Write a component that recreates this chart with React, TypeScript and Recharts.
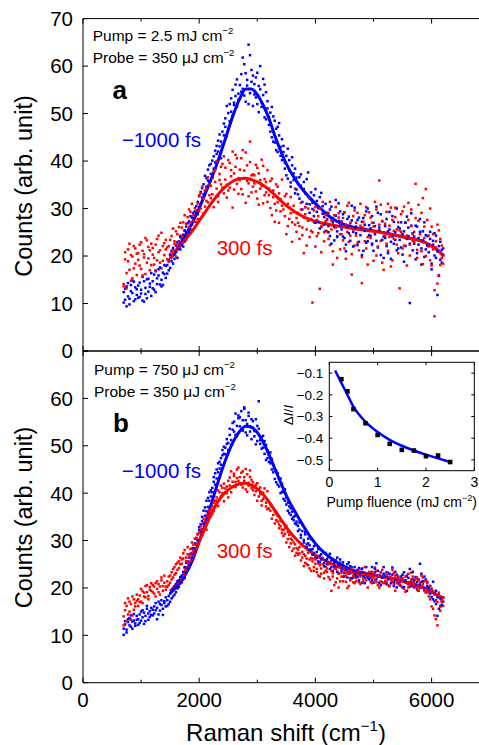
import React from 'react';
import { ComposedChart, Scatter, Line, XAxis, YAxis } from 'recharts';

// Raman shift grid (cm^-1)
const shifts = [
  700, 725, 750, 775, 800, 825, 850, 875, 900, 925,
  950, 975, 1000, 1025, 1050, 1075, 1100, 1125, 1150, 1175,
  1200, 1225, 1250, 1275, 1300, 1325, 1350, 1375, 1400, 1425,
  1450, 1475, 1500, 1525, 1550, 1575, 1600, 1625, 1650, 1675,
  1700, 1725, 1750, 1775, 1800, 1825, 1850, 1875, 1900, 1925,
  1950, 1975, 2000, 2025, 2050, 2075, 2100, 2125, 2150, 2175,
  2200, 2225, 2250, 2275, 2300, 2325, 2350, 2375, 2400, 2425,
  2450, 2475, 2500, 2525, 2550, 2575, 2600, 2625, 2650, 2675,
  2700, 2725, 2750, 2775, 2800, 2825, 2850, 2875, 2900, 2925,
  2950, 2975, 3000, 3025, 3050, 3075, 3100, 3125, 3150, 3175,
  3200, 3225, 3250, 3275, 3300, 3325, 3350, 3375, 3400, 3425,
  3450, 3475, 3500, 3525, 3550, 3575, 3600, 3625, 3650, 3675,
  3700, 3725, 3750, 3775, 3800, 3825, 3850, 3875, 3900, 3925,
  3950, 3975, 4000, 4025, 4050, 4075, 4100, 4125, 4150, 4175,
  4200, 4225, 4250, 4275, 4300, 4325, 4350, 4375, 4400, 4425,
  4450, 4475, 4500, 4525, 4550, 4575, 4600, 4625, 4650, 4675,
  4700, 4725, 4750, 4775, 4800, 4825, 4850, 4875, 4900, 4925,
  4950, 4975, 5000, 5025, 5050, 5075, 5100, 5125, 5150, 5175,
  5200, 5225, 5250, 5275, 5300, 5325, 5350, 5375, 5400, 5425,
  5450, 5475, 5500, 5525, 5550, 5575, 5600, 5625, 5650, 5675,
  5700, 5725, 5750, 5775, 5800, 5825, 5850, 5875, 5900, 5925,
  5950, 5975, 6000, 6025, 6050, 6075, 6100, 6125, 6150, 6175,
  6200,
];

// Panel a, -1000 fs (blue), two read-offs of the cloud
const aBlue = [
  10.2, 13.1, 9.4, 14.3, 11.0, 12.6, 14.8, 10.5, 13.4, 11.8,
  11.2, 14.4, 12.1, 15.6, 10.4, 13.3, 15.1, 12.5, 14.2, 11.6,
  13.2, 16.1, 12.4, 15.3, 17.2, 14.0, 13.6, 16.5, 18.1, 15.4,
  16.3, 19.2, 17.5, 21.1, 18.4, 20.3, 22.2, 19.6, 23.1, 21.4,
  22.3, 24.5, 23.1, 26.2, 24.4, 27.3, 25.6, 28.1, 27.2, 29.4,
  29.1, 31.4, 30.2, 33.5, 32.3, 35.1, 33.6, 36.4, 38.2, 35.5,
  37.3, 40.1, 38.4, 42.2, 41.5, 44.3, 43.1, 40.6, 46.2, 45.4,
  47.2, 45.3, 50.1, 48.4, 53.2, 49.5, 52.3, 56.1, 51.4, 54.2,
  53.1, 58.3, 55.2, 60.4, 52.5, 57.1, 64.5, 54.3, 59.2, 51.6,
  56.2, 53.4, 58.6, 50.3, 55.1, 52.4, 57.3, 49.2, 54.5, 51.1,
  49.3, 46.2, 51.4, 44.1, 48.5, 42.3, 47.2, 45.4, 41.1, 44.6,
  43.2, 38.4, 41.1, 36.3, 40.2, 35.5, 39.1, 37.4, 33.2, 36.5,
  35.3, 32.1, 37.2, 31.4, 34.1, 30.3, 36.2, 32.5, 29.1, 33.4,
  31.2, 28.4, 34.1, 29.3, 27.2, 32.4, 26.1, 30.5, 28.2, 25.3,
  29.1, 26.3, 24.2, 30.4, 27.1, 23.3, 28.5, 25.2, 31.1, 26.4,
  27.3, 24.1, 29.2, 22.4, 26.1, 28.3, 23.2, 27.5, 25.1, 30.2,
  26.2, 22.3, 28.1, 24.4, 27.2, 21.1, 25.3, 29.4, 23.1, 26.5,
  24.2, 28.4, 21.1, 26.3, 23.2, 29.1, 25.4, 20.2, 27.3, 24.1,
  26.3, 22.1, 25.2, 29.3, 19.4, 24.1, 27.2, 23.4, 21.2, 26.1,
  23.4, 27.1, 20.3, 25.2, 22.1, 28.3, 24.2, 10.1, 26.4, 21.2,
  24.1, 19.3, 26.2, 22.4, 25.1, 18.2, 23.3, 27.1, 21.4, 24.2,
  22.3, 25.1, 18.4, 23.2, 20.1, 24.3, 11.8, 22.1, 19.2, 21.3,
  20.2,
];
const aBlue2 = [
  12.4, 10.8, 13.6, 11.5, 9.8, 13.9, 12.2, 14.6, 10.9, 13.0,
  13.8, 11.4, 12.9, 10.6, 14.7, 12.0, 11.1, 15.2, 13.5, 16.4,
  14.7, 12.9, 16.8, 14.1, 15.9, 17.6, 15.0, 13.9, 16.2, 17.9,
  18.1, 17.0, 20.2, 18.9, 21.7, 19.4, 20.8, 22.9, 21.5, 24.0,
  23.6, 22.0, 25.4, 24.8, 26.9, 25.1, 28.4, 26.6, 29.1, 28.0,
  30.5, 28.8, 32.6, 31.0, 34.3, 33.0, 36.9, 34.6, 35.9, 39.1,
  39.4, 36.6, 41.0, 39.7, 43.2, 42.0, 45.6, 44.1, 43.5, 47.9,
  49.0, 51.6, 46.8, 52.0, 50.4, 55.0, 51.8, 53.7, 57.2, 52.9,
  56.0, 54.6, 61.8, 53.8, 58.5, 55.9, 52.0, 62.3, 56.7, 58.0,
  54.0, 57.6, 52.0, 55.8, 60.0, 51.4, 53.9, 56.1, 48.8, 52.6,
  47.6, 50.2, 45.0, 49.4, 43.9, 46.8, 41.9, 48.0, 43.0, 40.2,
  41.9, 39.6, 37.0, 42.6, 38.0, 34.6, 40.8, 36.0, 38.4, 34.0,
  33.0, 36.6, 34.8, 29.8, 35.6, 33.2, 31.0, 37.6, 30.9, 32.0,
  29.9, 32.8, 27.0, 31.6, 30.1, 25.8, 33.3, 28.9, 26.6, 31.0,
  27.8, 25.0, 29.8, 22.6, 28.0, 26.2, 31.8, 24.0, 27.4, 29.4,
  25.6, 28.8, 23.8, 21.0, 27.8, 24.8, 26.9, 30.6, 22.0, 25.9,
  24.8, 27.6, 23.0, 25.9, 20.2, 28.0, 26.6, 22.8, 30.0, 24.4,
  25.8, 22.6, 27.0, 24.6, 30.4, 21.8, 26.0, 28.8, 23.4, 19.6,
  23.8, 27.8, 20.6, 25.6, 23.0, 28.4, 22.6, 25.0, 30.0, 21.6,
  25.8, 21.8, 24.6, 18.8, 27.0, 23.6, 26.0, 22.6, 29.0, 24.8,
  22.6, 26.4, 20.6, 23.8, 27.8, 21.6, 25.2, 19.8, 24.4, 22.2,
  20.8, 23.6, 17.2, 22.4, 24.8, 19.6, 21.0, 15.8, 23.0, 18.6,
  21.6,
];

// Panel a, 300 fs (red)
const aRed = [
  14.1, 19.3, 13.2, 21.4, 17.1, 20.2, 15.3, 22.1, 18.4, 20.5,
  19.2, 22.4, 17.3, 21.1, 20.4, 16.2, 23.3, 19.5, 21.2, 18.1,
  20.3, 18.2, 22.4, 19.1, 24.3, 21.2, 17.4, 22.1, 20.2, 23.4,
  19.3, 22.1, 20.4, 24.2, 21.3, 23.1, 25.2, 22.4, 26.1, 24.3,
  24.2, 27.1, 25.3, 23.4, 28.2, 26.1, 29.3, 25.2, 27.4, 30.1,
  27.2, 31.1, 29.4, 33.2, 28.3, 32.1, 30.4, 34.2, 31.3, 35.1,
  32.2, 36.4, 30.3, 38.1, 34.2, 31.4, 37.3, 35.1, 39.4, 33.2,
  36.1, 32.3, 40.2, 34.4, 38.1, 30.2, 37.4, 41.3, 35.2, 33.1,
  38.2, 34.1, 42.3, 36.4, 31.2, 39.1, 35.3, 44.1, 33.4, 37.2,
  35.3, 39.2, 32.1, 37.4, 34.2, 40.3, 31.1, 36.2, 33.4, 38.1,
  34.2, 30.1, 36.3, 32.4, 27.2, 35.1, 31.3, 33.2, 29.4, 36.1,
  31.2, 28.4, 33.1, 26.3, 30.2, 32.4, 27.1, 29.3, 34.2, 25.1,
  29.1, 26.3, 31.2, 24.4, 28.1, 30.3, 22.2, 27.4, 32.1, 25.3,
  10.2, 27.1, 30.3, 24.2, 28.4, 13.1, 26.2, 31.4, 23.1, 27.3,
  25.2, 29.1, 22.3, 27.4, 18.2, 26.1, 30.3, 24.2, 28.1, 21.4,
  27.1, 23.3, 29.2, 19.4, 25.1, 31.2, 24.3, 16.1, 28.4, 22.2,
  24.3, 29.1, 21.2, 26.4, 14.3, 27.2, 23.1, 30.3, 18.2, 25.4,
  28.1, 22.3, 26.2, 31.4, 20.1, 25.3, 35.9, 23.2, 27.4, 17.1,
  24.2, 29.3, 21.1, 26.4, 30.2, 19.1, 25.3, 28.2, 22.4, 27.1,
  13.2, 25.1, 29.4, 22.2, 27.1, 24.3, 31.2, 20.1, 26.3, 23.2,
  25.1, 35.2, 21.3, 27.4, 23.2, 29.1, 18.3, 26.2, 34.1, 22.4,
  24.3, 19.1, 26.2, 21.4, 7.3, 23.1, 14.2, 25.4, 18.1, 22.2,
  20.1,
];
const aRed2 = [
  13.6, 20.8, 16.4, 18.9, 22.6, 14.8, 19.9, 17.4, 21.6, 16.0,
  20.6, 18.0, 22.9, 15.9, 19.7, 23.8, 18.6, 21.9, 17.0, 22.6,
  21.7, 19.6, 17.0, 23.6, 20.8, 18.6, 24.9, 19.0, 22.7, 21.4,
  21.8, 18.8, 23.4, 20.9, 25.8, 22.6, 19.9, 24.6, 23.0, 27.0,
  26.0, 23.0, 28.6, 26.8, 24.4, 29.8, 27.0, 31.0, 28.6, 26.0,
  29.6, 27.8, 32.8, 30.0, 34.6, 29.0, 33.8, 31.6, 36.6, 32.8,
  34.8, 33.0, 37.8, 35.6, 40.0, 32.6, 36.0, 38.8, 34.4, 41.0,
  38.6, 35.0, 33.8, 39.6, 36.8, 42.0, 34.0, 38.8, 40.6, 36.4,
  36.0, 40.6, 33.0, 38.0, 41.8, 35.8, 32.6, 39.8, 37.0, 34.6,
  37.0, 33.6, 38.6, 30.8, 36.0, 34.8, 39.0, 32.8, 35.6, 31.4,
  32.8, 35.8, 28.6, 33.8, 31.0, 29.6, 34.6, 27.0, 32.0, 30.6,
  29.8, 32.6, 24.6, 31.0, 27.8, 29.0, 23.0, 30.6, 26.6, 28.0,
  27.0, 23.6, 29.8, 26.0, 20.6, 28.8, 25.6, 30.0, 24.0, 27.8,
  25.0, 29.6, 22.0, 27.6, 24.8, 30.0, 20.8, 26.6, 25.0, 28.6,
  27.6, 23.6, 31.4, 25.6, 21.0, 28.6, 26.0, 19.6, 29.0, 24.6,
  24.6, 28.0, 21.6, 26.6, 30.6, 23.0, 27.0, 20.4, 25.6, 29.6,
  27.0, 22.8, 25.8, 31.0, 19.8, 26.0, 28.6, 21.6, 24.0, 29.2,
  23.8, 27.0, 19.0, 25.0, 29.8, 22.0, 26.6, 30.8, 18.6, 24.8,
  26.8, 22.6, 31.0, 24.0, 17.8, 27.6, 23.6, 30.2, 25.6, 20.6,
  25.4, 28.8, 21.6, 30.4, 23.8, 18.0, 27.6, 22.4, 29.8, 24.6,
  23.0, 28.0, 19.6, 30.8, 24.6, 21.0, 32.2, 23.8, 20.0, 27.6,
  22.0, 30.0, 18.0, 24.6, 12.8, 21.8, 26.6, 16.0, 23.6, 19.6,
  18.4,
];

// Panel b, -1000 fs (blue)
const bBlue = [
  10.1, 12.3, 11.2, 13.4, 12.1, 14.2, 11.4, 13.1, 12.5, 14.1,
  12.2, 14.4, 13.1, 15.3, 12.4, 14.1, 16.2, 13.3, 15.1, 14.3,
  14.2, 16.1, 15.3, 13.4, 17.1, 15.2, 16.4, 14.3, 17.2, 16.1,
  16.2, 18.3, 17.1, 19.4, 18.2, 20.3, 19.1, 21.4, 20.2, 22.3,
  21.2, 23.4, 22.1, 25.3, 24.2, 26.4, 25.1, 28.3, 27.2, 29.4,
  29.1, 31.3, 32.2, 33.4, 34.1, 36.3, 35.2, 38.4, 37.1, 40.2,
  39.3, 41.1, 42.4, 44.2, 43.1, 46.3, 45.2, 47.4, 49.1, 48.3,
  48.2, 50.4, 49.1, 52.3, 51.2, 53.4, 55.1, 52.3, 54.2, 56.4,
  54.1, 57.3, 53.2, 58.1, 55.4, 52.2, 56.3, 54.1, 51.4, 55.2,
  53.1, 50.3, 54.2, 59.4, 51.2, 49.4, 52.1, 48.3, 50.2, 47.4,
  48.1, 46.3, 47.2, 44.4, 45.1, 42.3, 44.2, 41.4, 43.1, 40.3,
  40.2, 38.4, 39.1, 36.3, 37.2, 35.4, 36.1, 34.3, 35.2, 33.4,
  33.1, 32.3, 31.2, 33.4, 30.1, 31.3, 29.2, 30.4, 28.1, 30.3,
  28.2, 27.4, 29.1, 26.3, 28.2, 25.4, 27.1, 26.3, 25.2, 27.4,
  26.1, 25.3, 27.2, 24.4, 26.1, 25.3, 24.2, 26.4, 23.1, 25.3,
  24.2, 25.4, 23.1, 24.3, 22.2, 25.4, 23.1, 24.3, 22.2, 24.4,
  23.1, 22.3, 24.2, 23.4, 21.1, 23.3, 22.2, 24.4, 22.1, 23.3,
  22.2, 24.4, 21.1, 23.3, 25.2, 22.4, 21.1, 23.3, 22.2, 24.4,
  21.1, 23.3, 22.2, 20.4, 22.1, 24.3, 21.2, 23.4, 20.1, 22.3,
  21.2, 22.4, 20.1, 23.3, 21.2, 19.4, 22.1, 20.3, 21.2, 23.4,
  20.1, 22.3, 21.2, 19.4, 25.1, 21.3, 20.2, 22.4, 19.1, 21.3,
  19.2, 20.4, 18.1, 21.3, 17.2, 19.4, 14.1, 18.3, 16.2, 17.4,
  17.1,
];
const bBlue2 = [
  11.4, 13.0, 10.6, 12.8, 13.6, 11.8, 12.9, 14.5, 12.0, 13.3,
  13.4, 12.6, 15.0, 13.8, 14.8, 13.0, 15.6, 14.6, 13.9, 15.8,
  15.4, 14.6, 16.8, 15.8, 14.4, 16.6, 17.4, 15.6, 16.8, 18.0,
  17.4, 16.6, 18.8, 17.8, 19.8, 18.6, 20.8, 19.9, 21.6, 21.0,
  22.6, 21.8, 24.4, 23.2, 25.6, 24.8, 27.2, 26.4, 28.4, 27.8,
  30.4, 30.0, 32.8, 31.8, 35.0, 33.6, 37.0, 36.2, 39.0, 38.4,
  40.6, 40.2, 43.4, 41.8, 45.0, 44.4, 46.6, 46.0, 48.0, 49.8,
  49.6, 51.4, 50.6, 53.6, 50.2, 54.8, 53.0, 56.8, 52.0, 55.8,
  56.0, 53.4, 55.4, 57.8, 52.8, 54.6, 57.0, 53.0, 55.6, 53.8,
  52.0, 55.6, 51.0, 53.6, 50.4, 51.8, 49.6, 51.0, 47.0, 49.0,
  46.6, 48.6, 45.0, 46.0, 43.0, 44.8, 41.8, 43.0, 40.0, 42.0,
  38.8, 40.8, 37.6, 38.0, 35.8, 36.8, 34.6, 35.0, 33.6, 34.0,
  32.0, 33.8, 30.6, 32.0, 29.6, 31.8, 28.6, 29.4, 29.0, 28.0,
  27.0, 28.8, 26.4, 27.6, 25.6, 26.8, 26.0, 27.8, 24.6, 25.8,
  25.0, 26.6, 24.0, 25.8, 23.6, 24.6, 25.8, 23.4, 24.8, 26.0,
  23.6, 24.8, 22.4, 23.8, 25.0, 23.0, 24.6, 22.0, 23.6, 22.8,
  22.6, 23.8, 21.6, 22.8, 24.0, 22.4, 21.0, 23.0, 22.6, 21.8,
  23.0, 21.6, 22.8, 24.0, 21.8, 23.6, 22.6, 20.6, 22.2, 23.0,
  22.6, 20.8, 21.8, 23.0, 21.0, 22.8, 20.4, 21.6, 22.8, 21.0,
  20.6, 21.8, 22.8, 20.2, 21.6, 22.6, 20.8, 24.0, 20.4, 21.8,
  21.6, 20.6, 19.8, 21.8, 20.6, 23.0, 21.4, 20.0, 21.8, 20.4,
  20.0, 18.8, 19.8, 17.6, 18.8, 16.6, 18.0, 15.6, 17.8, 16.4,
  18.0,
];

// Panel b, 300 fs (red)
const bRed = [
  12.1, 15.3, 16.2, 14.4, 17.1, 13.3, 18.2, 15.4, 16.1, 17.3,
  16.2, 18.4, 17.1, 19.3, 18.2, 20.4, 19.1, 18.3, 20.2, 19.4,
  19.1, 20.3, 18.2, 21.4, 19.1, 20.3, 22.2, 19.4, 21.1, 20.3,
  20.2, 22.4, 21.1, 23.3, 22.2, 24.4, 23.1, 25.3, 24.2, 26.4,
  25.1, 27.3, 24.2, 26.4, 27.1, 25.3, 28.2, 27.4, 29.1, 28.3,
  29.2, 31.4, 30.1, 32.3, 31.2, 33.4, 34.1, 32.3, 35.2, 36.4,
  35.1, 37.3, 36.2, 38.4, 39.1, 37.3, 40.2, 39.4, 41.1, 38.3,
  40.2, 41.4, 39.1, 43.3, 40.2, 42.4, 44.1, 41.3, 43.2, 45.4,
  42.1, 44.3, 41.2, 43.4, 45.1, 40.3, 42.2, 43.4, 41.1, 42.3,
  41.2, 40.4, 42.1, 39.3, 41.2, 38.4, 40.1, 39.3, 37.2, 40.4,
  38.1, 36.3, 37.2, 35.4, 36.1, 34.3, 35.2, 33.4, 34.1, 32.3,
  32.2, 31.4, 33.1, 30.3, 31.2, 29.4, 30.1, 28.3, 29.2, 27.4,
  28.1, 27.3, 29.2, 26.4, 27.1, 25.3, 26.2, 27.4, 24.1, 26.3,
  26.2, 24.4, 25.1, 23.3, 25.2, 22.4, 24.1, 26.3, 23.2, 24.4,
  24.1, 22.3, 25.2, 19.4, 23.1, 24.3, 21.2, 23.4, 20.1, 24.3,
  23.2, 22.4, 24.1, 21.3, 23.2, 20.4, 22.1, 23.3, 21.2, 22.4,
  22.1, 23.3, 21.2, 22.4, 24.1, 21.3, 23.2, 22.4, 20.1, 22.3,
  21.2, 23.4, 22.1, 24.3, 21.2, 22.4, 20.1, 23.3, 21.2, 22.4,
  22.1, 21.3, 23.2, 20.4, 22.1, 21.3, 23.2, 19.4, 22.1, 21.3,
  21.2, 20.4, 22.1, 21.3, 19.2, 22.4, 20.1, 21.3, 23.2, 20.4,
  21.1, 20.3, 22.2, 19.4, 21.1, 20.3, 22.2, 21.4, 19.1, 20.3,
  18.2, 20.4, 16.1, 19.3, 14.2, 17.4, 12.1, 18.3, 15.2, 17.4,
  16.2,
];
const bRed2 = [
  14.0, 16.8, 13.0, 17.8, 15.0, 16.6, 14.2, 17.6, 16.8, 18.6,
  17.6, 17.0, 19.8, 16.8, 19.0, 18.0, 20.6, 17.6, 19.6, 21.0,
  20.6, 18.8, 21.0, 19.8, 20.8, 18.6, 21.6, 20.4, 22.6, 19.6,
  21.4, 20.6, 22.6, 21.8, 24.0, 22.8, 25.0, 23.8, 25.6, 25.0,
  26.0, 26.2, 28.0, 25.6, 28.6, 26.6, 27.0, 29.6, 27.8, 30.4,
  30.6, 29.6, 31.6, 33.0, 32.4, 34.6, 33.0, 35.4, 34.0, 36.0,
  36.6, 35.6, 38.0, 37.0, 38.4, 40.6, 38.6, 41.6, 40.0, 42.0,
  41.0, 40.0, 42.6, 41.6, 44.6, 41.4, 43.6, 42.4, 45.0, 42.6,
  43.4, 41.8, 44.6, 42.6, 40.8, 44.0, 41.6, 44.8, 42.8, 40.6,
  39.6, 41.8, 38.4, 40.8, 39.8, 37.4, 38.8, 41.0, 38.0, 36.6,
  36.8, 37.6, 34.6, 36.8, 33.6, 35.6, 34.0, 32.6, 33.0, 31.6,
  31.0, 32.6, 29.6, 31.8, 28.6, 30.4, 27.8, 29.6, 26.8, 28.4,
  27.0, 28.6, 25.8, 27.6, 24.6, 26.8, 25.0, 24.8, 26.0, 23.6,
  25.6, 23.6, 26.0, 24.0, 22.6, 24.8, 23.0, 25.0, 22.0, 23.6,
  23.4, 25.0, 21.8, 23.6, 22.4, 20.6, 24.0, 22.0, 23.0, 21.4,
  22.4, 21.4, 23.4, 22.6, 20.0, 23.0, 21.6, 24.0, 22.6, 21.0,
  21.4, 22.8, 23.6, 20.8, 22.8, 21.8, 24.4, 21.6, 22.8, 23.4,
  22.6, 21.0, 23.0, 21.6, 23.6, 20.6, 22.6, 21.4, 23.8, 21.0,
  21.4, 22.8, 20.6, 22.4, 21.6, 23.8, 20.8, 22.6, 21.0, 22.4,
  20.6, 22.0, 21.6, 19.8, 22.4, 21.0, 23.0, 20.6, 21.8, 22.4,
  20.6, 21.8, 19.6, 21.6, 20.0, 22.6, 20.8, 19.4, 21.6, 21.0,
  19.0, 17.6, 19.6, 15.6, 18.6, 13.4, 17.0, 19.0, 16.0, 17.0,
  18.0,
];

// Fitted curves
const fitX = [1500, 1700, 1900, 2000, 2100, 2200, 2300, 2400, 2500, 2600, 2700, 2800, 2900, 3000, 3100, 3200, 3300, 3400, 3500, 3700, 3900, 4100, 4300, 4500, 4700, 5000, 5300, 5600, 5900, 6100, 6200];
const fitABlue = [19.4, 23.0, 27.5, 30.1, 33.0, 36.0, 39.2, 42.8, 46.6, 50.2, 53.2, 55.2, 55.2, 54.0, 51.8, 49.0, 45.4, 42.2, 39.4, 35.3, 32.3, 29.9, 27.8, 26.6, 25.9, 25.3, 24.6, 23.8, 22.8, 21.3, 20.1];
const fitARed = [19.5, 22.5, 25.6, 27.4, 29.2, 31.0, 32.6, 34.0, 35.1, 35.9, 36.3, 36.4, 36.1, 35.6, 34.9, 34.0, 32.9, 31.7, 30.6, 28.9, 27.7, 27.0, 26.5, 26.1, 25.7, 25.2, 24.6, 23.8, 22.8, 21.3, 20.1];
const fitBBlue = [18.9, 21.6, 26.3, 29.8, 33.4, 37.4, 41.4, 45.2, 48.5, 51.2, 53.1, 54.1, 53.9, 52.8, 50.8, 48.2, 45.2, 42.3, 39.5, 35.0, 31.0, 28.0, 26.0, 24.5, 23.5, 22.7, 22.1, 21.1, 19.8, 18.5, 17.8];
const fitBRed = [19.3, 22.3, 26.8, 29.8, 32.6, 35.4, 37.8, 39.5, 40.7, 41.5, 42.0, 42.1, 41.7, 40.9, 39.7, 38.2, 36.4, 34.6, 32.8, 29.9, 27.8, 26.2, 25.0, 23.9, 23.1, 22.6, 22.0, 21.1, 19.8, 18.5, 17.8];

const xTicks = [0, 1000, 2000, 3000, 4000, 5000, 6000, 7000];
const yTicks = [0, 10, 20, 30, 40, 50, 60, 70];

// Inset: ΔI/I vs pump fluence
const fluence = [0.25, 0.375, 0.5, 0.75, 1.0, 1.25, 1.5, 1.75, 2.0, 2.25, 2.5];
const deltaI = [-0.128, -0.184, -0.266, -0.331, -0.385, -0.426, -0.454, -0.457, -0.483, -0.48, -0.51];
const fitFluence = [0.12, 0.25, 0.375, 0.5, 0.75, 1.0, 1.25, 1.5, 1.75, 2.0, 2.25, 2.5];
const fitDeltaI = [-0.088, -0.145, -0.2, -0.255, -0.325, -0.372, -0.408, -0.435, -0.457, -0.476, -0.493, -0.51];
const insetXTicks = [0, 1, 2, 3];
const insetYTicks = [-0.5, -0.4, -0.3, -0.2, -0.1];

const BLUE = '#0000ff';
const RED = '#ff0000';
const FONT = "'Liberation Sans', Arial, Helvetica, sans-serif";

const toPts = (xs: number[], ys: number[]) => xs.map((x, i) => ({ x, y: ys[i] }));

const Dot = (props: any) => {
  const { cx, cy, fill } = props;
  if (cx == null || cy == null) return null;
  return <rect x={cx - 1.25} y={cy - 1.25} width={2.5} height={2.5} fill={fill} />;
};

const Square = (props: any) => {
  const { cx, cy } = props;
  if (cx == null || cy == null) return null;
  return <rect x={cx - 2.3} y={cy - 2.3} width={4.6} height={4.6} fill="#000" />;
};

const XTick = (props: any) => {
  const { x, y, payload, dir, labels, majorEvery, majorLen, minorLen, fs, offset, maxLabel } = props;
  const v = payload.value;
  const major = majorEvery ? Math.abs(v % majorEvery) < 1e-9 : true;
  const len = major ? majorLen : minorLen;
  return (
    <g>
      <line x1={x} x2={x} y1={y} y2={y + dir * len} stroke="#000" strokeWidth={1} />
      {labels && major && v <= maxLabel ? (
        <text x={x} y={y + offset} textAnchor="middle" fontSize={fs} fill="#000" fontFamily={FONT}>
          {String(v)}
        </text>
      ) : null}
    </g>
  );
};

const YTick = (props: any) => {
  const { x, y, payload, dir, labels, len, fs, gap, maxLabel, fmt } = props;
  const v = payload.value;
  return (
    <g>
      <line x1={x} x2={x + dir * len} y1={y} y2={y} stroke="#000" strokeWidth={1} />
      {labels && v <= maxLabel ? (
        <text x={x - gap} y={y + fs * 0.36} textAnchor="end" fontSize={fs} fill="#000" fontFamily={FONT}>
          {fmt(v)}
        </text>
      ) : null}
    </g>
  );
};

function Panel(p: {
  top: number; height: number; marginTop: number; marginBottom: number;
  blue: any[]; blue2: any[]; red: any[]; red2: any[]; fitBlue: any[]; fitRed: any[]; xLabels: boolean; maxYLabel: number;
}) {
  return (
    <div style={{ position: 'absolute', left: 0, top: p.top }}>
      <ComposedChart width={500} height={p.height} margin={{ top: p.marginTop, right: 10.3, bottom: p.marginBottom, left: 0 }}>
        <XAxis
          xAxisId="b" type="number" dataKey="x" domain={[0, 7000]} ticks={xTicks} interval={0}
          height={1} tickSize={0} tickMargin={0} tickLine={false} allowDataOverflow
          axisLine={{ stroke: '#000', strokeWidth: 1 }}
          tick={(t: any) => <XTick {...t} dir={-1} labels={p.xLabels} majorEvery={2000} majorLen={5} minorLen={3} fs={20.5} offset={24} maxLabel={6000} />}
        />
        <XAxis
          xAxisId="t" orientation="top" type="number" dataKey="x" domain={[0, 7000]} ticks={xTicks} interval={0}
          height={1} tickSize={0} tickMargin={0} tickLine={false} allowDataOverflow
          axisLine={{ stroke: '#000', strokeWidth: 1 }}
          tick={(t: any) => <XTick {...t} dir={1} labels={false} majorEvery={2000} majorLen={5} minorLen={3} fs={20} offset={0} maxLabel={0} />}
        />
        <YAxis
          yAxisId="l" type="number" dataKey="y" domain={[0, 70]} ticks={yTicks} interval={0}
          width={83} tickSize={0} tickMargin={0} tickLine={false} allowDataOverflow
          axisLine={{ stroke: '#000', strokeWidth: 1 }}
          tick={(t: any) => <YTick {...t} dir={1} labels len={5} fs={20.5} gap={10} maxLabel={p.maxYLabel} fmt={(v: number) => String(v)} />}
        />
        <Scatter xAxisId="b" yAxisId="l" data={p.blue} fill={BLUE} shape={Dot} isAnimationActive={false} />
        <Scatter xAxisId="b" yAxisId="l" data={p.red} fill={RED} shape={Dot} isAnimationActive={false} />
        <Scatter xAxisId="b" yAxisId="l" data={p.blue2} fill={BLUE} shape={Dot} isAnimationActive={false} />
        <Scatter xAxisId="b" yAxisId="l" data={p.red2} fill={RED} shape={Dot} isAnimationActive={false} />
        <Line xAxisId="b" yAxisId="l" data={p.fitBlue} dataKey="y" type="monotone" stroke={BLUE} strokeWidth={3} dot={false} activeDot={false} isAnimationActive={false} />
        <Line xAxisId="b" yAxisId="l" data={p.fitRed} dataKey="y" type="monotone" stroke={RED} strokeWidth={3} dot={false} activeDot={false} isAnimationActive={false} />
      </ComposedChart>
    </div>
  );
}

const minusFmt = (v: number) => (v < 0 ? '\u2212' : '') + Math.abs(v).toFixed(1);

function Inset() {
  return (
    <div style={{ position: 'absolute', left: 280, top: 355 }}>
      <ComposedChart width={199} height={160} margin={{ top: 6.3, right: 3.7, bottom: 43.3, left: 0 }}>
        <XAxis
          xAxisId="b" type="number" dataKey="x" domain={[0, 3]} ticks={insetXTicks} interval={0}
          height={1} tickSize={0} tickMargin={0} tickLine={false} allowDataOverflow
          axisLine={{ stroke: '#000', strokeWidth: 1 }}
          tick={(t: any) => <XTick {...t} dir={-1} labels majorEvery={0} majorLen={3} minorLen={3} fs={14} offset={16} maxLabel={3} />}
        />
        <XAxis
          xAxisId="t" orientation="top" type="number" dataKey="x" domain={[0, 3]} ticks={insetXTicks} interval={0}
          height={1} tickSize={0} tickMargin={0} tickLine={false} allowDataOverflow
          axisLine={{ stroke: '#000', strokeWidth: 1 }}
          tick={(t: any) => <XTick {...t} dir={1} labels={false} majorEvery={0} majorLen={3} minorLen={3} fs={14} offset={0} maxLabel={0} />}
        />
        <YAxis
          yAxisId="l" type="number" dataKey="y" domain={[-0.55, -0.05]} ticks={insetYTicks} interval={0}
          width={49.3} tickSize={0} tickMargin={0} tickLine={false} allowDataOverflow
          axisLine={{ stroke: '#000', strokeWidth: 1 }}
          tick={(t: any) => <YTick {...t} dir={1} labels len={3} fs={13.5} gap={6} maxLabel={1} fmt={minusFmt} />}
        />
        <YAxis
          yAxisId="r" orientation="right" type="number" dataKey="y" domain={[-0.55, -0.05]} ticks={insetYTicks} interval={0}
          width={1} tickSize={0} tickMargin={0} tickLine={false} allowDataOverflow
          axisLine={{ stroke: '#000', strokeWidth: 1 }}
          tick={(t: any) => <YTick {...t} dir={-1} labels={false} len={3} fs={13.5} gap={6} maxLabel={1} fmt={minusFmt} />}
        />
        <Scatter xAxisId="b" yAxisId="l" data={toPts(fluence, deltaI)} fill="#000" shape={Square} isAnimationActive={false} />
        <Line xAxisId="b" yAxisId="l" data={toPts(fitFluence, fitDeltaI)} dataKey="y" type="monotone" stroke={BLUE} strokeWidth={2.5} dot={false} activeDot={false} isAnimationActive={false} />
      </ComposedChart>
    </div>
  );
}

function Overlay() {
  const t = { fontFamily: FONT, fill: '#000' };
  return (
    <svg width={479} height={745} style={{ position: 'absolute', left: 0, top: 0, pointerEvents: 'none' }}>
      {/* Panel a */}
      <text x={92.7} y={40.5} fontSize={15.5} {...t}>Pump = 2.5 mJ cm<tspan dy={-7} fontSize={9.5}>{'\u2212'}2</tspan></text>
      <text x={92.7} y={62.7} fontSize={15.5} {...t}>Probe = 350 {'\u03bc'}J cm<tspan dy={-7} fontSize={9.5}>{'\u2212'}2</tspan></text>
      <text x={112.5} y={99} fontSize={26} fontWeight="bold" {...t}>a</text>
      <text x={121.7} y={146.7} fontSize={20.5} fontFamily={FONT} fill={BLUE}>{'\u2212'}1000 fs</text>
      <text x={216.7} y={255} fontSize={20.5} fontFamily={FONT} fill={RED}>300 fs</text>
      {/* Panel b */}
      <text x={94} y={375} fontSize={15.5} {...t}>Pump = 750 {'\u03bc'}J cm<tspan dy={-7} fontSize={9.5}>{'\u2212'}2</tspan></text>
      <text x={94} y={397} fontSize={15.5} {...t}>Probe = 350 {'\u03bc'}J cm<tspan dy={-7} fontSize={9.5}>{'\u2212'}2</tspan></text>
      <text x={113} y={431.5} fontSize={26} fontWeight="bold" {...t}>b</text>
      <text x={121.7} y={478} fontSize={20.5} fontFamily={FONT} fill={BLUE}>{'\u2212'}1000 fs</text>
      <text x={216.7} y={558} fontSize={20.5} fontFamily={FONT} fill={RED}>300 fs</text>
      {/* Axis titles */}
      <text x={32} y={186} fontSize={23.5} textAnchor="middle" transform="rotate(-90 32 186)" {...t}>Counts (arb. unit)</text>
      <text x={32} y={517.5} fontSize={23.5} textAnchor="middle" transform="rotate(-90 32 517.5)" {...t}>Counts (arb. unit)</text>
      <text x={286} y={741} fontSize={24} textAnchor="middle" {...t}>Raman shift (cm<tspan dy={-10} fontSize={15}>{'\u2212'}1</tspan><tspan dy={10}>)</tspan></text>
      {/* Inset titles */}
      <text x={401.7} y={506.5} fontSize={14} textAnchor="middle" {...t}>Pump fluence (mJ cm<tspan dy={-6} fontSize={9}>{'\u2212'}2</tspan><tspan dy={6}>)</tspan></text>
      <text x={293} y={415} fontSize={13.5} textAnchor="middle" transform="rotate(-90 293 415)" {...t}>{'\u0394'}<tspan fontStyle="italic">I</tspan>/<tspan fontStyle="italic">I</tspan></text>
    </svg>
  );
}

export default function App() {
  return (
    <div style={{ position: 'absolute', left: 0, top: 0, width: 479, height: 745, overflow: 'hidden', background: '#fff', fontFamily: FONT }}>
      <Panel top={0} height={375} marginTop={17.6} marginBottom={23} blue={toPts(shifts, aBlue)} blue2={toPts(shifts, aBlue2)}
        red={toPts(shifts, aRed)} red2={toPts(shifts, aRed2)}
        fitBlue={toPts(fitX, fitABlue)} fitRed={toPts(fitX, fitARed)} xLabels={false} maxYLabel={70} />
      <Panel top={340} height={405} marginTop={10} marginBottom={61.3} blue={toPts(shifts, bBlue)} blue2={toPts(shifts, bBlue2)}
        red={toPts(shifts, bRed)} red2={toPts(shifts, bRed2)}
        fitBlue={toPts(fitX, fitBBlue)} fitRed={toPts(fitX, fitBRed)} xLabels maxYLabel={60} />
      <Inset />
      <Overlay />
    </div>
  );
}
